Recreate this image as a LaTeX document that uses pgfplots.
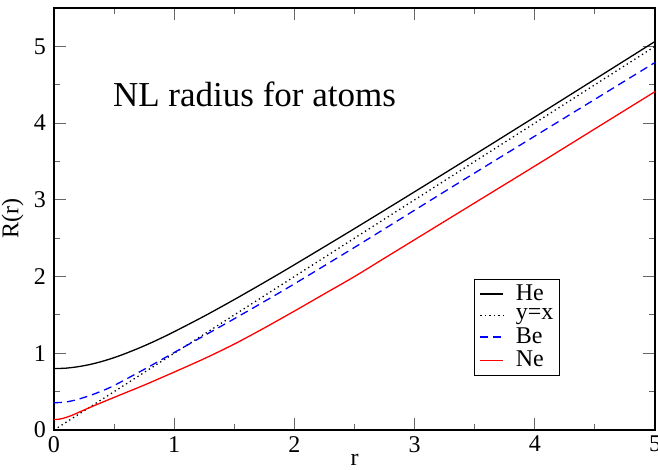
\documentclass[border=0pt]{standalone}
\usepackage{fontspec}
\setmainfont{Liberation Serif}
\usepackage{pgfplots}
\pgfplotsset{compat=1.18}
\begin{document}
\fontsize{24pt}{28pt}\selectfont
\begin{tikzpicture}
\begin{axis}[
  name=main,
  scale only axis,
  width=601pt, height=422pt,
  xmin=0, xmax=5, ymin=0, ymax=5.5,
  xtick={0,1,2,3,4,5}, ytick={0,1,2,3,4,5},
  minor tick num=1,
  tick align=inside,
  xtick pos=both, ytick pos=both,
  major tick length=12pt, minor tick length=6pt,
  every tick/.style={black!60, line width=1pt},
  axis line style={line width=1.4pt},
  xlabel={r}, ylabel={R(r)},
  xlabel style={yshift=14pt},
  ylabel style={yshift=-6pt},
  /pgf/number format/assume math mode=true,
  ticklabel style={font=\fontsize{24pt}{28pt}\selectfont},
  label style={font=\fontsize{24pt}{28pt}\selectfont},
  xticklabel style={yshift=2pt},
  legend style={at={(0.699,0.358)}, anchor=north west,
    draw=black, line width=1pt, font=\fontsize{24pt}{24pt}\selectfont,
    row sep=2.5pt, inner xsep=5pt, inner ysep=4pt,
    nodes={inner sep=1pt},
    /tikz/every odd column/.append style={column sep=11pt}},
  legend cell align=left,
  legend image code/.code={\draw[#1] (0pt,0pt) -- (23pt,0pt);},
  every axis plot/.append style={line width=1.3pt},
]
\addplot[black, smooth] coordinates {
(0,0.800) (0.1,0.806) (0.2,0.825) (0.3,0.854) (0.4,0.894) (0.5,0.943)
(0.6,1.000) (0.7,1.063) (0.8,1.131) (0.9,1.204) (1,1.281) (1.25,1.484)
(1.5,1.700) (1.75,1.924) (2,2.154) (2.5,2.625) (3,3.105) (3.5,3.590)
(4,4.079) (4.5,4.571) (5,5.064)};
\addlegendentry{He}
\addplot[black, dash pattern=on 1.3pt off 3.2pt] coordinates {(0,0) (5,5)};
\addlegendentry{y=x}
\addplot[color=blue, smooth, dash pattern=on 8pt off 5pt] coordinates {
(0,0.355) (0.1,0.365) (0.2,0.40) (0.3,0.45) (0.4,0.51) (0.5,0.58)
(0.75,0.79) (1,1.01) (1.25,1.23) (1.5,1.45) (1.75,1.675)
(2,1.905) (2.5,2.38) (3,2.865) (3.5,3.35) (4,3.83) (4.5,4.31) (5,4.79)};
\addlegendentry{Be}
\addplot[color=red, smooth] coordinates {
(0,0.135) (0.05,0.143) (0.1,0.163) (0.15,0.192) (0.2,0.226) (0.3,0.295)
(0.4,0.36) (0.5,0.425) (0.75,0.585) (1,0.755) (1.25,0.93) (1.5,1.12)
(1.75,1.33) (2,1.55) (2.25,1.775) (2.5,2.00) (2.75,2.24) (3,2.48)
(3.5,2.96) (4,3.44) (4.5,3.925) (5,4.41)};
\addlegendentry{Ne}
\node[anchor=base west, inner sep=0pt, font=\fontsize{35pt}{38pt}\selectfont]
  at (axis cs:0.49,4.22) {NL radius for atoms};
\end{axis}
\pgfresetboundingbox
\path ([shift={(-54pt,-40pt)}]main.south west)
  rectangle ([shift={(3pt,8pt)}]main.north east);
\end{tikzpicture}
\end{document}
